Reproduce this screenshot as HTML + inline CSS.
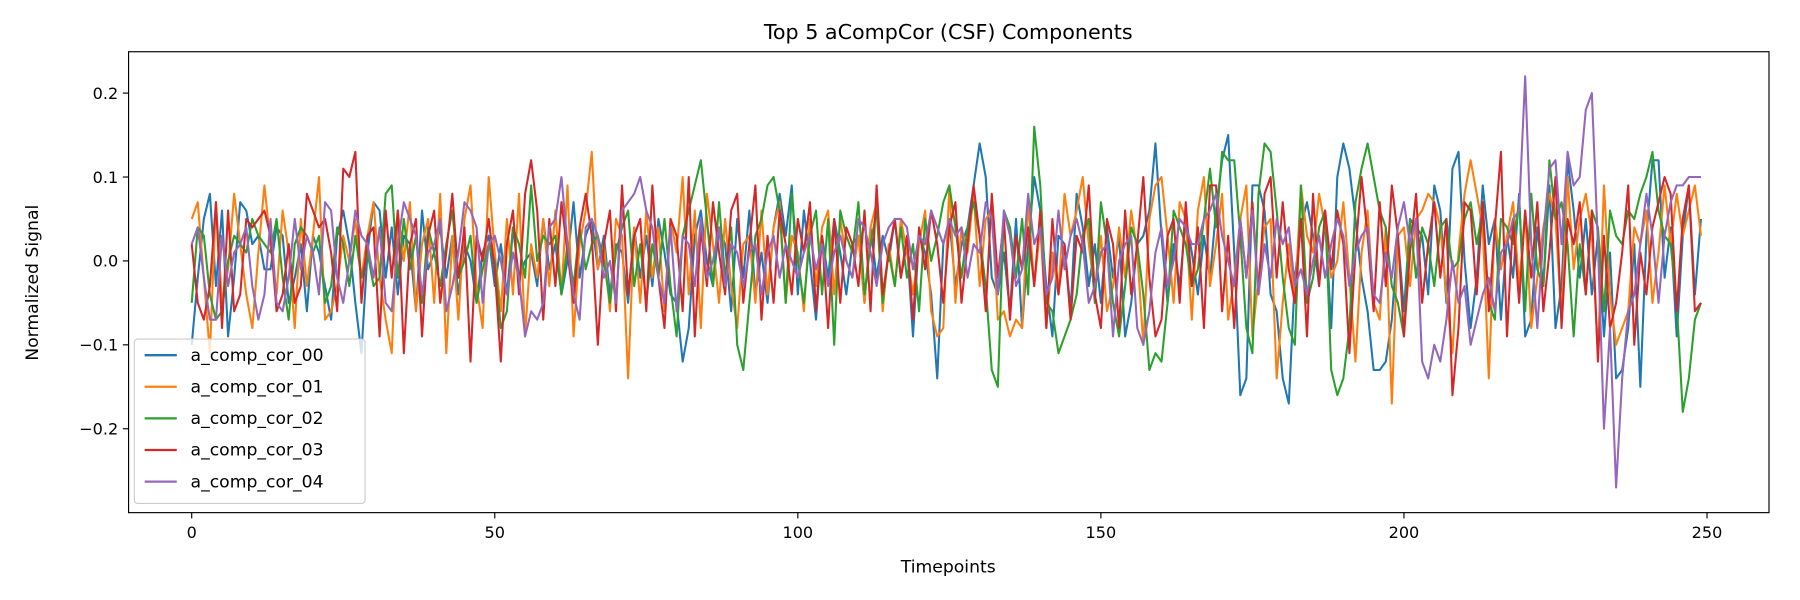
<!DOCTYPE html>
<html><head><meta charset="utf-8"><style>
body{margin:0;background:#fff;}
svg{font-family:"DejaVu Sans","Liberation Sans",sans-serif;display:block;}
</style></head><body>
<svg id="chart" width="1800" height="600" viewBox="0 0 1568 522" preserveAspectRatio="none" xmlns="http://www.w3.org/2000/svg">
<rect width="1568" height="522" fill="#fff"/>
<text x="826" y="34" font-size="18" text-anchor="middle">Top 5 aCompCor (CSF) Components</text>
<text x="826" y="498" font-size="15" text-anchor="middle">Timepoints</text>
<text transform="translate(33,246) rotate(-90)" font-size="15" text-anchor="middle">Normalized Signal</text>
<g id="series"></g>
<g id="axes"></g>
<rect x="112" y="45" width="1429" height="401" fill="none" stroke="#000" stroke-width="1"/>
<g id="legend"></g>
</svg>
<script>
const timepoints = 250;
const seriesNames = ["a_comp_cor_00","a_comp_cor_01","a_comp_cor_02","a_comp_cor_03","a_comp_cor_04"];
const xTicks = [0,50,100,150,200,250];
const yTicks = [-0.2,-0.1,0.0,0.1,0.2];
const yTickLabels = ["\u22120.2","\u22120.1","0.0","0.1","0.2"];
const s00 = [-.10,-.02,.05,.08,-.03,.06,-.09,-.02,.07,.06,.02,.03,-.01,-.01,.04,.03,-.05,-.02,.02,-.06,.03,.01,-.03,-.07,.03,
.06,.02,-.05,-.11,.01,.07,.06,-.02,.04,-.04,.03,.02,-.06,.06,-.01,.01,.04,-.02,.03,-.04,.02,.00,-.05,.01,.03,
-.03,.02,-.04,.04,-.02,.00,.01,-.03,.05,-.01,.02,-.04,.00,.07,-.02,.03,.05,-.01,.03,-.04,.02,.01,-.05,.04,-.02,
.03,-.03,.05,.01,-.04,-.05,-.12,-.08,.03,.06,.00,-.03,.04,.02,-.06,.05,-.02,.06,-.04,.01,-.05,.04,.08,.03,.09,
-.04,.06,.00,-.07,.03,-.02,.05,.01,-.04,.02,.03,-.05,.04,-.02,.03,.00,.05,-.02,.02,-.09,.03,.01,-.04,-.14,.02,
.05,-.03,.02,.04,.09,.14,.10,-.02,-.04,.01,-.06,.05,-.08,.02,.10,.06,-.03,-.09,.03,.02,-.06,.08,.04,-.03,.02,
-.05,.04,-.02,.03,-.09,-.05,.02,.03,.06,.14,.03,-.05,.02,-.03,.05,.01,-.04,.03,-.02,.06,.12,.15,.01,-.16,-.14,
.09,.09,.06,-.04,-.06,-.14,-.17,-.02,.04,.07,.03,-.03,.05,-.08,.10,.14,.11,.05,-.02,-.06,-.13,-.13,-.12,-.07,.03,
-.06,.05,.04,.03,-.04,.09,.06,-.05,.11,.13,.00,-.08,-.02,.09,.02,.05,-.07,.03,-.02,.08,-.09,-.07,.04,-.03,.09,
-.08,-.03,.12,.06,-.02,.05,-.04,.03,-.09,.01,-.14,-.13,-.08,.02,-.15,.03,.12,.12,-.02,.04,-.09,.03,.09,-.04,.05];
const s01 = [.05,.07,-.02,-.11,.07,-.05,-.01,.08,.02,-.04,-.08,.01,.09,.02,-.04,.06,.01,-.08,.05,-.03,.03,.10,-.07,-.06,-.03,
.03,.00,.05,-.02,.03,.07,-.02,-.07,-.11,.06,.00,.07,-.06,.02,.05,-.05,.08,-.11,.03,-.07,.05,.09,-.03,-.08,.10,
.01,-.06,.05,-.04,.08,-.09,.02,-.02,.05,-.03,.06,-.04,.09,-.09,.02,.06,.13,-.01,.02,-.06,.05,.03,-.14,.04,-.05,
.06,-.02,.04,-.06,.05,.01,.10,-.04,.06,-.08,.08,.02,-.05,.05,-.03,-.08,.02,.03,-.05,.06,-.04,.04,.07,-.05,.03,
.01,-.06,.05,-.03,.04,.06,-.04,.05,.00,-.02,.03,-.05,.04,.07,-.06,.02,-.03,.05,.01,-.04,.02,.06,-.06,-.09,-.08,
.09,-.05,.04,.01,.08,-.03,.05,.06,-.07,-.06,-.09,-.07,-.08,.07,-.03,.04,-.08,.01,-.04,.08,.03,.06,.10,.02,-.04,
.03,-.06,-.03,.04,-.02,.06,.01,-.10,.05,.09,.10,.03,-.05,.07,.05,-.07,.06,.10,-.03,.02,.08,-.07,-.02,.05,.09,
-.09,-.02,.04,.05,-.14,-.05,.02,-.05,.09,.03,.01,.08,.04,-.02,.00,.07,-.02,-.12,.01,.06,-.05,-.07,.04,-.17,.03,
.04,-.03,.05,.06,.08,.07,.04,-.04,-.11,.01,.08,.12,.08,.04,-.14,.05,-.01,.03,.07,-.03,.06,-.08,-.02,.04,.08,
.05,-.07,.10,-.01,.05,.08,.03,-.11,.09,-.04,-.10,-.08,-.06,.04,.02,.06,-.05,.01,.09,.02,.08,.03,.06,.09,.03];
const s02 = [-.05,.04,.03,-.04,-.07,-.06,.00,.03,.02,.01,.05,.03,.02,.01,.05,-.02,-.07,.02,.04,.03,.01,.03,-.05,-.03,.04,
.02,-.03,.03,-.02,.01,-.03,-.02,.08,.09,-.02,.05,-.01,.03,-.05,.04,.01,-.03,.02,.06,-.02,.00,.03,-.05,-.01,.02,
.00,-.08,-.06,.04,.02,-.02,.09,.00,.03,.02,.03,-.04,.02,-.03,.04,-.01,.02,.03,.00,-.05,.01,.04,.06,-.03,.02,
-.05,.02,-.02,.05,-.03,-.09,.03,.06,.09,.12,.05,-.03,.07,-.02,.04,-.10,-.13,-.05,.03,.05,.09,.10,.06,-.05,.08,
.00,-.05,.03,.06,-.04,.05,-.10,.06,.03,.01,.07,-.04,.02,.06,-.05,.01,-.03,.04,-.02,.02,-.06,.05,.00,.03,.07,
.09,.04,-.02,.04,.07,.03,-.03,-.13,-.15,.06,.04,-.02,.05,-.04,.16,.09,-.05,-.06,-.11,-.09,-.07,-.04,.03,.05,-.05,
.07,.02,-.05,-.09,-.03,.04,.02,-.04,-.13,-.11,-.12,-.05,.06,.04,.02,-.03,-.01,.05,.11,.04,.13,.12,.12,.03,-.08,
-.11,.08,.14,.13,.06,-.02,-.08,-.10,.09,-.05,-.02,.04,.06,-.13,-.16,-.14,-.08,.07,.11,.14,.10,.06,.04,-.03,-.05,
-.09,.05,-.02,.04,.02,-.03,.04,.05,-.01,.00,.05,.07,.02,.06,-.05,-.07,.05,.04,.02,.07,-.06,.08,-.01,-.03,.12,
.05,.07,.02,-.09,.02,-.04,.06,.04,-.06,.06,.03,.02,.06,.05,.08,.10,.13,.06,.03,.02,-.05,-.18,-.14,-.07,-.05];
const s03 = [.02,-.05,-.07,-.03,.07,-.08,.06,-.06,-.04,.05,.04,.05,.06,.03,-.06,-.04,.02,-.05,-.03,.08,.06,.04,.05,.01,-.06,
.11,.10,.13,-.05,.03,.04,-.09,.06,-.02,.06,-.11,.02,.05,-.09,.03,.06,-.05,.01,.08,-.02,.04,-.12,.03,.00,.05,
-.01,-.12,.02,.06,-.04,.08,.12,.06,-.07,.05,-.03,.07,.01,-.05,.04,.08,.03,-.10,.02,.06,-.06,.09,-.04,.03,.05,
-.06,.09,-.02,-.08,.05,.03,-.06,.10,-.09,.04,-.03,.07,.01,-.04,.06,.08,-.05,.02,.09,-.07,.03,-.05,.06,.02,-.04,
.05,.01,.07,-.06,.03,-.08,.05,-.05,.04,.02,-.03,.06,-.06,.09,-.04,.01,.05,-.02,.03,-.07,.04,-.01,.06,.02,-.05,
.04,.07,-.05,.02,.09,.03,-.06,.08,-.02,.05,-.07,.03,-.01,.04,-.03,.06,-.08,.05,-.04,.02,-.07,.03,.01,.09,-.04,
-.08,.05,.02,-.08,.06,-.04,.02,.10,-.02,-.09,-.07,.03,.05,-.05,.07,-.03,.04,-.08,.09,.09,-.06,.03,-.08,.05,-.02,
.07,-.04,.08,.10,-.02,.07,-.01,-.05,.05,-.09,.08,-.03,.06,-.01,.06,.02,-.11,.01,.10,.03,-.06,.07,-.03,.09,.03,
-.09,.01,.08,-.05,.02,.07,-.02,.05,-.16,-.08,.07,.06,-.04,.07,-.06,.04,.13,-.09,.05,-.05,.06,-.02,.07,-.06,.01,
.10,-.08,.05,.02,.07,-.04,.06,-.12,.03,-.08,-.05,.01,.09,-.10,.01,-.04,.04,.07,.10,.08,-.06,.05,.09,-.06,-.05];
const s04 = [.02,.04,-.02,-.07,-.07,.03,-.03,.01,.02,.04,-.03,-.07,-.04,.05,-.05,-.06,-.02,.05,-.01,.03,.01,-.04,.07,.06,-.02,
-.05,.00,.06,.03,.02,-.02,.04,-.05,-.06,.02,.07,.05,.03,-.04,.01,.02,.05,-.06,-.03,.01,.07,.06,.04,-.05,.02,
.03,.00,-.04,.01,-.02,-.09,-.06,-.07,-.05,.04,.05,.10,.02,-.04,-.07,.04,.05,.03,-.02,.00,-.05,.06,.07,.08,.10,
.06,.04,-.02,-.05,.04,-.06,.03,.02,-.03,.05,-.02,.00,.04,-.03,.02,.01,-.03,.01,.02,-.04,.01,.03,-.02,.02,.00,
-.02,.01,.03,-.01,.02,-.03,.01,.03,.00,-.02,.05,.04,.01,-.03,.02,.04,.05,.05,.04,-.01,.03,.02,.06,.04,.02,
.05,.03,.04,-.02,.02,.01,.07,.05,-.04,.06,.03,-.03,-.01,.08,.02,.04,-.04,-.02,.06,-.01,.03,.05,.02,-.05,-.03,
.01,.02,-.09,.00,.02,.03,-.08,-.10,-.06,.01,.04,-.03,.00,.05,.04,.02,.02,.05,.06,.08,.03,.00,-.03,.05,-.02,
.06,-.04,.02,-.02,.05,.02,.04,-.03,-.01,-.04,.00,.03,-.02,.02,.05,.03,-.03,.01,.03,.04,-.04,-.05,.01,-.02,.04,
.07,.02,.05,-.12,-.14,-.10,-.12,-.07,.00,-.05,-.03,-.10,-.07,-.04,-.02,-.06,.01,.02,.05,.06,.22,.02,-.08,.03,.11,
.12,.02,.13,.09,.10,.18,.20,.02,-.20,-.08,-.27,-.14,-.06,-.04,.02,.08,.03,-.05,.03,.07,.09,.09,.10,.10,.10];
const seriesValues = [s00,s01,s02,s03,s04];
const colors = ["#1f77b4","#ff7f0e","#2ca02c","#d62728","#9467bd"];

const NS = "http://www.w3.org/2000/svg";
const X0=112,X1=1541,Y0=45,Y1=446;
function xs(v){ return 167 + v*(1487-167)/250; }
function ys(v){ return 227 - v*730; }

const sg = document.getElementById('series');
seriesValues.forEach((vals,k)=>{
  const p = document.createElementNS(NS,'path');
  p.setAttribute('d', vals.map((v,i)=>(i?'L':'M')+xs(i).toFixed(2)+' '+ys(v).toFixed(2)).join(''));
  p.setAttribute('fill','none');
  p.setAttribute('stroke',colors[k]);
  p.setAttribute('stroke-width','1.8');
  p.setAttribute('stroke-linejoin','round');
  
  
  sg.appendChild(p);
});

const ag = document.getElementById('axes');
xTicks.forEach(t=>{
  const l = document.createElementNS(NS,'line');
  l.setAttribute('x1',xs(t)); l.setAttribute('x2',xs(t));
  l.setAttribute('y1',Y1); l.setAttribute('y2',Y1+5);
  l.setAttribute('stroke','#000');
  
  
  ag.appendChild(l);
  const tx = document.createElementNS(NS,'text');
  tx.setAttribute('x',xs(t)); tx.setAttribute('y',Y1+22);
  tx.setAttribute('font-size','14'); tx.setAttribute('text-anchor','middle');
  tx.textContent = t;
  
  
  ag.appendChild(tx);
});
yTicks.forEach((t,i)=>{
  const l = document.createElementNS(NS,'line');
  l.setAttribute('x1',X0-5); l.setAttribute('x2',X0);
  l.setAttribute('y1',ys(t)); l.setAttribute('y2',ys(t));
  l.setAttribute('stroke','#000');
  
  
  ag.appendChild(l);
  const tx = document.createElementNS(NS,'text');
  tx.setAttribute('x',X0-9); tx.setAttribute('y',ys(t)+5);
  tx.setAttribute('font-size','14'); tx.setAttribute('text-anchor','end');
  tx.textContent = yTickLabels[i];
  
  
  ag.appendChild(tx);
});

const lg = document.getElementById('legend');
const box = document.createElementNS(NS,'rect');
box.setAttribute('x',117); box.setAttribute('y',295); box.setAttribute('width',201); box.setAttribute('height',143);
box.setAttribute('rx',3); box.setAttribute('fill','#fff'); box.setAttribute('fill-opacity','0.8');
box.setAttribute('stroke','#ccc');


lg.appendChild(box);
seriesNames.forEach((n,k)=>{
  const y = 309 + k*27.5;
  const l = document.createElementNS(NS,'line');
  l.setAttribute('x1',126); l.setAttribute('x2',154);
  l.setAttribute('y1',y); l.setAttribute('y2',y);
  l.setAttribute('stroke',colors[k]); l.setAttribute('stroke-width','2');
  
  
  lg.appendChild(l);
  const tx = document.createElementNS(NS,'text');
  tx.setAttribute('x',166); tx.setAttribute('y',y+5);
  tx.setAttribute('font-size','15');
  tx.textContent = n;
  
  
  lg.appendChild(tx);
});
</script>
</body></html>
